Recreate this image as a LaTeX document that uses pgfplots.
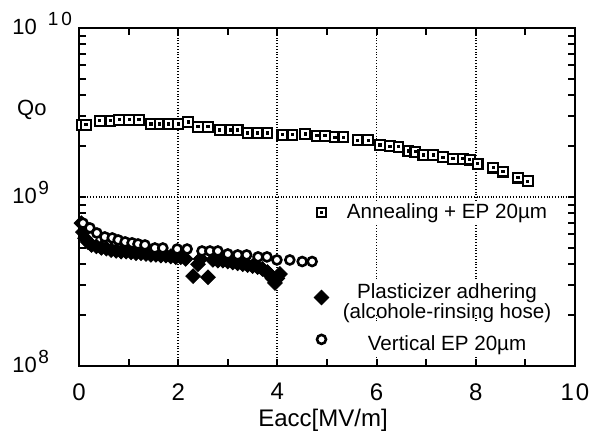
\documentclass[border=0pt]{standalone}
\usepackage{fontspec}
\setmainfont{Liberation Sans}
\usepackage{pgfplots}
\pgfplotsset{compat=1.18}

% square with a dot in the middle
\pgfdeclareplotmark{sqdot}{%
  \pgfpathrectangle{\pgfpoint{-\pgfplotmarksize}{-\pgfplotmarksize}}{\pgfpoint{2\pgfplotmarksize}{2\pgfplotmarksize}}%
  \pgfusepathqfillstroke
  \begin{pgfscope}
    \pgfsetfillcolor{black}%
    \pgfpathrectangle{\pgfpoint{-0.33\pgfplotmarksize}{-0.33\pgfplotmarksize}}{\pgfpoint{0.66\pgfplotmarksize}{0.66\pgfplotmarksize}}%
    \pgfusepathqfill
  \end{pgfscope}}

\newcommand{\dec}[2][0.8pt]{10\hspace{#1}\raisebox{4.5pt}{\fontsize{9.5}{9.5}\selectfont #2}}

\begin{document}
\begin{tikzpicture}
\path[use as bounding box] (-39.5pt,-32.5pt) rectangle (256pt,183pt);
\begin{axis}[
  at={(0,0)}, anchor=south west,
  scale only axis, width=248pt, height=169pt,
  xmin=0, xmax=10,
  ymode=log, ymin=1e8, ymax=1e10,
  xtick={0,2,4,6,8,10},
  minor xtick={1,3,5,7,9},
  xticklabels={0,2,4,6,8,1\hspace{1pt}0},
  ytick={1e8,1e9,1e10},
  yticklabels={\dec{8},\dec{9},\dec[5.5pt]{1\hspace{1.5pt}0}},
  tick align=inside,
  major tick length=3.5pt, minor tick length=3.5pt,
  every tick/.style={black, line width=1pt},
  xmajorgrids, ymajorgrids,
  grid style={black, densely dotted, line width=0.9pt},
  axis line style={line width=1.2pt},
  xticklabel style={font=\fontsize{12}{12}\selectfont, inner sep=0pt, yshift=-8.5pt},
  yticklabel style={font=\fontsize{11}{11}\selectfont, anchor=base west, inner sep=0pt, xshift=-33.5pt, yshift=-3.5pt},
  xlabel={Eacc[MV/m]},
  xlabel style={at={(axis description cs:0.5,0)}, anchor=north, inner sep=0pt, yshift=-21.5pt, xshift=-2pt, font=\fontsize{12}{12}\selectfont},
  ylabel={Qo},
  ylabel style={at={(axis description cs:-0.095,0.757)}, rotate=-90, anchor=center, font=\fontsize{11}{11}\selectfont},
  legend cell align=center,
  legend style={at={(axis description cs:0.4537,0.4905)}, anchor=north west,
    draw=none, fill=none, inner sep=0pt, row sep=4pt, column sep=5.5pt,
    nodes={fill=white, inner sep=1.5pt},
    font=\fontsize{10.3}{10.3}\selectfont},
]

\addplot[only marks, mark=sqdot, mark size=2.4pt,
  mark options={draw=black, fill=white, line width=1.1pt}]
  coordinates {
  (0.05,2.67e9)(0.14,2.67e9)(0.42,2.82e9)(0.63,2.82e9)(0.81,2.86e9)(1.01,2.86e9)
  (1.21,2.86e9)(1.45,2.70e9)(1.63,2.70e9)(1.80,2.70e9)(2.00,2.70e9)(2.20,2.78e9)
  (2.40,2.60e9)(2.60,2.60e9)(2.84,2.49e9)(3.05,2.49e9)(3.20,2.49e9)(3.40,2.39e9)
  (3.60,2.39e9)(3.80,2.39e9)(4.10,2.33e9)(4.30,2.33e9)(4.56,2.36e9)(4.80,2.30e9)
  (4.96,2.30e9)(5.16,2.26e9)(5.33,2.26e9)(5.62,2.17e9)(5.83,2.17e9)(6.07,2.03e9)
  (6.27,2.00e9)(6.44,1.98e9)(6.64,1.87e9)(6.78,1.85e9)(6.94,1.77e9)(7.14,1.77e9)
  (7.34,1.72e9)(7.54,1.68e9)(7.74,1.68e9)(7.88,1.66e9)(8.04,1.57e9)(8.35,1.49e9)
  (8.55,1.41e9)(8.85,1.30e9)(9.05,1.24e9)};
\addlegendentry{Annealing + EP 20µm}
\addlegendimage{empty legend}
\addlegendentry{\rule{0pt}{15.5pt}}

\addplot[only marks, mark=square*, mark size=2.6pt,
  mark options={rotate=45, draw=black, fill=black}]
  coordinates {
  (0.05,7.0e8)(0.08,6.2e8)(0.12,5.7e8)(0.18,5.4e8)(0.25,5.2e8)(0.35,5.1e8)
  (0.45,5.0e8)(0.55,4.95e8)(0.65,4.85e8)(0.75,4.8e8)(0.85,4.75e8)(0.95,4.75e8)
  (1.05,4.7e8)(1.15,4.65e8)(1.25,4.65e8)(1.35,4.6e8)(1.45,4.55e8)(1.55,4.55e8)
  (1.65,4.5e8)(1.75,4.5e8)(1.85,4.45e8)(1.95,4.4e8)(2.05,4.4e8)(2.15,4.3e8)
  (2.30,3.4e8)(2.40,4.0e8)(2.45,4.3e8)(2.60,3.35e8)(2.70,4.25e8)(2.80,4.2e8)
  (2.90,4.2e8)(3.00,4.15e8)(3.10,4.1e8)(3.20,4.05e8)(3.30,4.0e8)(3.40,3.95e8)
  (3.50,3.9e8)(3.60,3.85e8)(3.70,3.75e8)(3.80,3.6e8)(3.85,3.45e8)(3.90,3.3e8)
  (3.95,3.1e8)(4.00,3.3e8)(4.05,3.5e8)};
\addlegendentry{{\def\arraystretch{0.8}\begin{tabular}{@{}c@{}}Plasticizer adhering\\(alcohole-rinsing hose)\end{tabular}}}

\addplot[only marks, mark=*, mark size=2.25pt,
  mark options={draw=black, fill=white, line width=1.3pt}]
  coordinates {
  (0.08,7.0e8)(0.22,6.56e8)(0.36,6.12e8)(0.52,5.80e8)(0.67,5.72e8)(0.79,5.57e8)
  (0.93,5.42e8)(1.07,5.35e8)(1.19,5.27e8)(1.33,5.20e8)(1.53,4.99e8)(1.69,4.99e8)
  (1.98,4.92e8)(2.18,4.92e8)(2.48,4.79e8)(2.64,4.79e8)(2.80,4.79e8)(3.00,4.60e8)
  (3.20,4.54e8)(3.38,4.54e8)(3.61,4.42e8)(3.79,4.42e8)(3.99,4.24e8)(4.25,4.24e8)
  (4.50,4.15e8)(4.70,4.15e8)};
\addlegendentry{\rule{0pt}{12.5pt}Vertical EP 20µm}
\end{axis}
\end{tikzpicture}
\end{document}
